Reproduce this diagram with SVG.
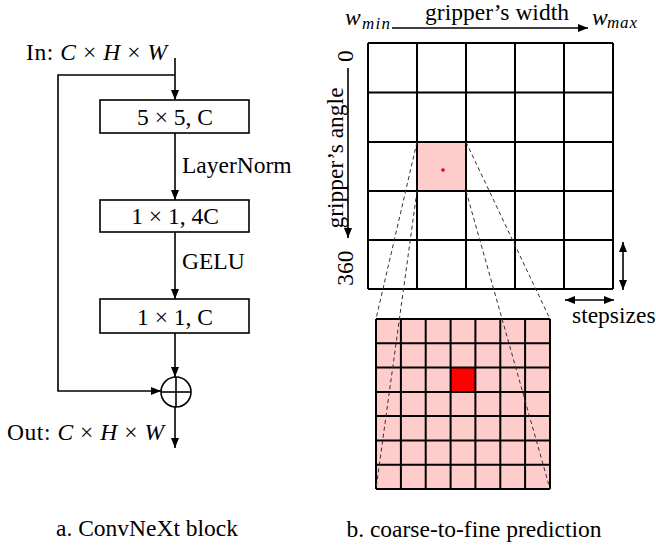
<svg xmlns="http://www.w3.org/2000/svg" width="656" height="547" viewBox="0 0 656 547" font-family="'Liberation Serif', 'DejaVu Serif', serif">
<style>
text{font-family:'Liberation Serif','DejaVu Serif',serif;font-size:23.5px;fill:#000}
.it{font-style:italic}
.sub{font-style:italic;font-size:17px}
.box{fill:#fff;stroke:#000;stroke-width:1.6}
.conn{fill:none;stroke:#000;stroke-width:1.6}
.grid{stroke:#000;stroke-width:2;fill:none}
.dash{stroke:#333;stroke-width:1;stroke-dasharray:4 3;fill:none}
</style>
<defs>
<marker id="ah" viewBox="0 0 10 8" refX="10" refY="4" markerWidth="10" markerHeight="8" markerUnits="userSpaceOnUse" orient="auto-start-reverse">
<path d="M0,0 L10,4 L0,8 Z" fill="#000"/>
</marker>
</defs>
<rect width="656" height="547" fill="#fff"/>

<!-- Left: ConvNeXt block -->
<g id="connectors">
<line class="conn" x1="175" y1="58" x2="175" y2="100" marker-end="url(#ah)"/>
<polyline class="conn" points="175,75 58,75 58,391 161,391" marker-end="url(#ah)"/>
<line class="conn" x1="175" y1="133" x2="175" y2="200" marker-end="url(#ah)"/>
<line class="conn" x1="175" y1="232" x2="175" y2="299" marker-end="url(#ah)"/>
<line class="conn" x1="175" y1="333" x2="175" y2="377" marker-end="url(#ah)"/>
<line class="conn" x1="175" y1="407" x2="175" y2="448" marker-end="url(#ah)"/>
<text x="182" y="173">LayerNorm</text>
<text x="182" y="269">GELU</text>
</g>
<g id="input"><text x="26" y="60" textLength="141" lengthAdjust="spacing">In: <tspan class="it">C</tspan> × <tspan class="it">H</tspan> × <tspan class="it">W</tspan></text></g>
<g id="conv5"><rect class="box" x="100" y="100" width="149" height="33"/><text x="175" y="125" text-anchor="middle">5 × 5, C</text></g>
<g id="conv1a"><rect class="box" x="100" y="200" width="149" height="32"/><text x="175" y="224" text-anchor="middle">1 × 1, 4C</text></g>
<g id="conv1b"><rect class="box" x="100" y="299" width="149" height="34"/><text x="175" y="325" text-anchor="middle">1 × 1, C</text></g>
<g id="sum"><circle cx="176" cy="392" r="15" fill="#fff" stroke="#000" stroke-width="1.6"/><line class="conn" x1="161" y1="392" x2="191" y2="392"/><line class="conn" x1="176" y1="377" x2="176" y2="407"/></g>
<g id="output"><text x="7" y="440" textLength="157" lengthAdjust="spacing">Out: <tspan class="it">C</tspan> × <tspan class="it">H</tspan> × <tspan class="it">W</tspan></text></g>
<text x="147" y="536" text-anchor="middle">a. ConvNeXt block</text>

<!-- Right: coarse-to-fine -->
<g id="width-axis">
<text x="497" y="20" text-anchor="middle">gripper’s width</text>
<line class="conn" x1="392" y1="28" x2="588" y2="28" marker-end="url(#ah)"/>
<text x="345" y="25" class="it" font-size="24">w</text><text x="362" y="29" class="sub" textLength="28">min</text>
<text x="592" y="25" class="it" font-size="24">w</text><text x="607" y="28" class="sub" textLength="30">max</text>
</g>
<g id="angle-axis">
<text transform="translate(343,158) rotate(-90)" text-anchor="middle">gripper’s angle</text>
<text transform="translate(353,56) rotate(-90)" text-anchor="middle">0</text>
<text transform="translate(353,268) rotate(-90)" text-anchor="middle">360</text>
<line class="conn" x1="348" y1="68" x2="348" y2="238" marker-end="url(#ah)"/>
</g>
<g id="coarse-grid">
<rect x="417" y="142" width="49" height="49" fill="#ffcccc"/>
<circle cx="443" cy="170" r="1.8" fill="#e00000"/>
<path class="grid" d="M368,43H613M368,92.5H613M368,142H613M368,191H613M368,240H613M368,289H613M368,43V289M417,43V289M466,43V289M515,43V289M564,43V289M613,43V289"/>
</g>
<g id="fine-grid">
<rect x="376" y="319" width="174" height="170" fill="#ffcccc"/>
<rect x="450.7" y="367.6" width="24.9" height="24.3" fill="#ff0000"/>
<path class="grid" d="M376,319H550M376,343.3H550M376,367.6H550M376,391.9H550M376,416.1H550M376,440.4H550M376,464.7H550M376,489H550M376,319V489M400.9,319V489M425.7,319V489M450.6,319V489M475.4,319V489M500.3,319V489M525.1,319V489M550,319V489"/>
</g>
<g id="zoom-lines">
<line class="dash" x1="417" y1="142" x2="376" y2="319"/>
<line class="dash" x1="417" y1="191" x2="376" y2="489"/>
<line class="dash" x1="466" y1="142" x2="550" y2="319"/>
<line class="dash" x1="466" y1="191" x2="550" y2="489"/>
</g>
<g id="stepsizes">
<line class="conn" x1="623" y1="242" x2="623" y2="290" marker-start="url(#ah)" marker-end="url(#ah)"/>
<line class="conn" x1="565" y1="300" x2="614" y2="300" marker-start="url(#ah)" marker-end="url(#ah)"/>
<text x="572" y="323">stepsizes</text>
</g>
<text x="474" y="537" text-anchor="middle">b. coarse-to-fine prediction</text>
</svg>
